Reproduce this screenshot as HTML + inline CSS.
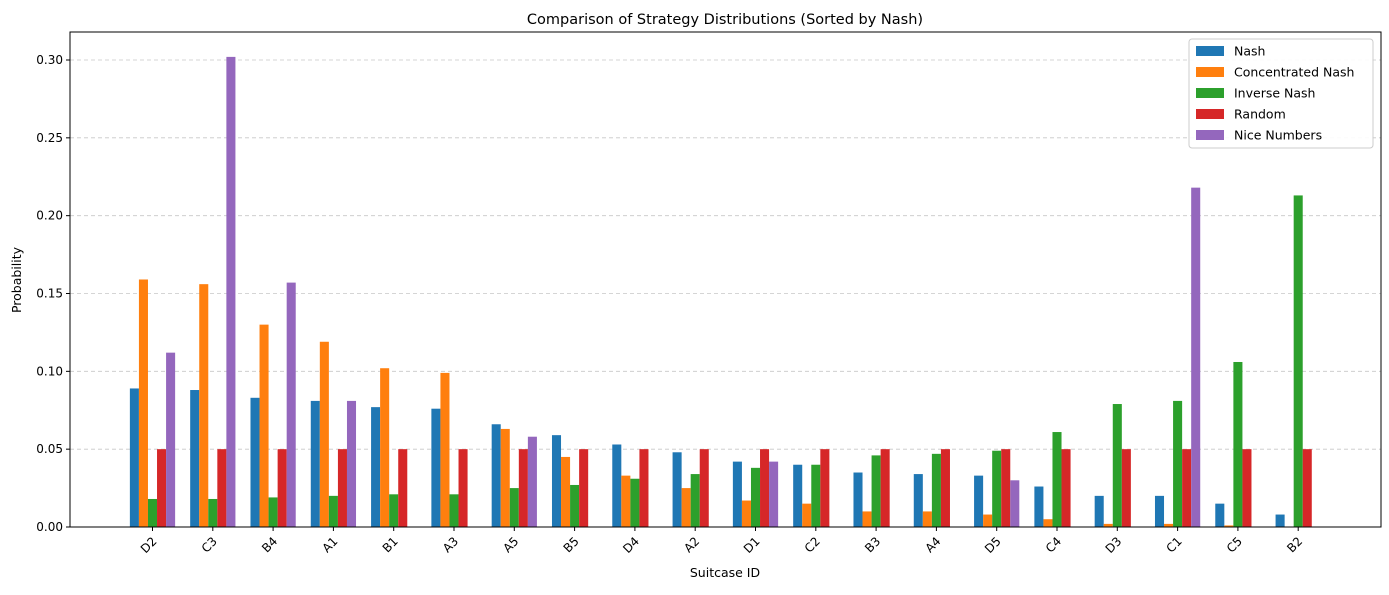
<!DOCTYPE html>
<html><head><meta charset="utf-8"><style>
body{margin:0;background:#fff;font-family:"Liberation Sans","DejaVu Sans",sans-serif}
svg text{font-family:"DejaVu Sans","Liberation Sans",sans-serif}
</style></head><body>
<svg id="c" width="1389" height="590" xmlns="http://www.w3.org/2000/svg"></svg>
<script>
const categories=["D2","C3","B4","A1","B1","A3","A5","B5","D4","A2","D1","C2","B3","A4","D5","C4","D3","C1","C5","B2"];
const seriesNames=["Nash","Concentrated Nash","Inverse Nash","Random","Nice Numbers"];
const nash=[.089,.088,.083,.081,.077,.076,.066,.059,.053,.048,.042,.040,.035,.034,.033,.026,.020,.020,.015,.008];
const concNash=[.159,.156,.130,.119,.102,.099,.063,.045,.033,.025,.017,.015,.010,.010,.008,.005,.002,.002,.001,0];
const invNash=[.018,.018,.019,.020,.021,.021,.025,.027,.031,.034,.038,.040,.046,.047,.049,.061,.079,.081,.106,.213];
const randomVals=[.05,.05,.05,.05,.05,.05,.05,.05,.05,.05,.05,.05,.05,.05,.05,.05,.05,.05,.05,.05];
const niceNums=[.112,.302,.157,.081,0,0,.058,0,0,0,.042,0,0,0,.030,0,0,.218,0,0];
const yTicks=[0,0.05,0.10,0.15,0.20,0.25,0.30];
const colors=["#1f77b4","#ff7f0e","#2ca02c","#d62728","#9467bd"];
const series=[nash,concNash,invNash,randomVals,niceNums];
const L=70,R=1381,T=32,B=527;
const y=v=>B-v*(467/0.30);
const x=i=>152.5+i*60.3;
const bw=9.05;
const svg=document.getElementById('c');
const NS="http://www.w3.org/2000/svg";
function mk(t,a,p){const e=document.createElementNS(NS,t);for(const k in a)e.setAttribute(k,a[k]);(p||svg).appendChild(e);return e;}
yTicks.forEach(v=>{
 const g=mk('line',{x1:L,x2:R,y1:y(v),y2:y(v),stroke:'#b0b0b0','stroke-dasharray':'4,3','stroke-width':0.8,opacity:0.7});
 
 
 mk('line',{x1:L-4,x2:L,y1:y(v),y2:y(v),stroke:'#000'});
 const t=mk('text',{x:L-7,y:y(v)+4,'text-anchor':'end','font-size':12});
 t.textContent=v.toFixed(2);
 
 
});
series.forEach((s,k)=>{
 s.forEach((v,i)=>{
  const bx=x(i)+(k-2)*bw-bw/2;
  const r=mk('rect',{x:bx,y:y(v),width:bw,height:B-y(v),fill:colors[k]});
  
  
 });
});
categories.forEach((c,i)=>{
 mk('line',{x1:x(i),x2:x(i),y1:B,y2:B+4,stroke:'#000'});
 const t=mk('text',{'font-size':12,'text-anchor':'end',transform:`translate(${x(i)+5},${B+15}) rotate(-45)`});
 t.textContent=c;
 
 
});
mk('rect',{x:L,y:T,width:R-L,height:B-T,fill:'none',stroke:'#000','stroke-width':1});
let t=mk('text',{x:725,y:24,'text-anchor':'middle','font-size':14.5});t.textContent="Comparison of Strategy Distributions (Sorted by Nash)";

t=mk('text',{x:725,y:577,'text-anchor':'middle','font-size':12.5});t.textContent="Suitcase ID";

t=mk('text',{'font-size':12.5,'text-anchor':'middle',transform:'translate(21,280) rotate(-90)'});t.textContent="Probability";

const lg=mk('g',{});


mk('rect',{x:1189,y:39,width:184,height:109,rx:3,fill:'#fff',stroke:'#ccc','fill-opacity':0.9},lg);
seriesNames.forEach((n,k)=>{
 const yy=51+k*21;
 mk('rect',{x:1196,y:yy-5,width:28,height:10,fill:colors[k]},lg);
 const tt=mk('text',{x:1234,y:yy+4.5,'font-size':12.5},lg);
 tt.textContent=n;
 
 
});
</script>
</body></html>
